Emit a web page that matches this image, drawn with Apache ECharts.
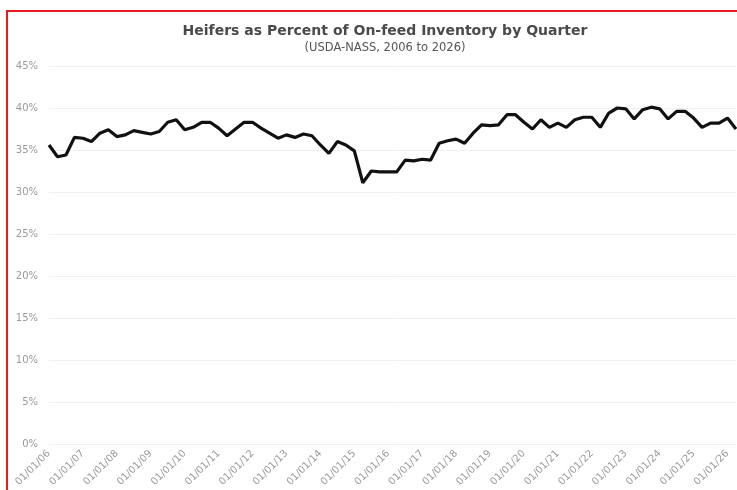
<!DOCTYPE html>
<html>
<head>
<meta charset="utf-8">
<script src="https://cdn.jsdelivr.net/npm/echarts@6/dist/echarts.min.js"></script>
<style>
html,body{margin:0;padding:0;background:#fff;}
#chart{width:737px;height:490px;}
</style>
</head>
<body>
<div id="chart"></div>
<script>
// Quarterly observations, Jan 2006 onward
var quarters = [];
var years = ['06','07','08','09','10','11','12','13','14','15','16','17','18','19','20','21','22','23','24','25','26'];
var months = ['01','04','07','10'];

var heiferPct = [
  35.6, 34.2, 34.4, 36.5, 36.4, 36.0, 37.0, 37.4, 36.6, 36.8,
  37.3, 37.1, 36.9, 37.2, 38.3, 38.6, 37.4, 37.7, 38.3, 38.3,
  37.6, 36.7, 37.5, 38.3, 38.3, 37.6, 37.0, 36.4, 36.8, 36.5,
  36.9, 36.7, 35.6, 34.6, 36.0, 35.6, 34.9, 31.1, 32.5, 32.4,
  32.4, 32.4, 33.8, 33.7, 33.9, 33.8, 35.8, 36.1, 36.3, 35.8,
  37.0, 38.0, 37.9, 38.0, 39.2, 39.2, 38.3, 37.5, 38.6, 37.7,
  38.2, 37.7, 38.6, 38.9, 38.9, 37.7, 39.4, 40.0, 39.9, 38.7,
  39.8, 40.1, 39.9, 38.7, 39.6, 39.6, 38.8, 37.7, 38.2, 38.2,
  38.8, 37.5
];

for (var i = 0; i < heiferPct.length; i++) {
  var y = years[Math.floor(i / 4)] || '26';
  quarters.push(months[i % 4] + '/01/' + y);
}

var titleText = 'Heifers as Percent of On-feed Inventory by Quarter';
var subtitleText = '(USDA-NASS, 2006 to 2026)';

var chart = echarts.init(document.getElementById('chart'));
chart.setOption({
  animation: false,
  backgroundColor: '#ffffff',
  title: {
    text: titleText,
    subtext: subtitleText,
    left: 380,
    top: 19,
    textAlign: 'center',
    itemGap: 4,
    textStyle: {fontFamily: 'DejaVu Sans', fontSize: 14, fontWeight: 'bold', color: '#4a4a4a'},
    subtextStyle: {fontFamily: 'DejaVu Sans', fontSize: 11.5, color: '#555'}
  },
  graphic: [
    {type: 'rect', left: 6, top: 10, shape: {width: 2, height: 480}, style: {fill: '#e8191f'}, z: 10},
    {type: 'rect', left: 6, top: 10, shape: {width: 731, height: 2}, style: {fill: '#e8191f'}, z: 10}
  ],
  grid: {left: 49, right: 1, top: 66, bottom: 46, containLabel: false},
  xAxis: {
    type: 'category',
    data: quarters,
    boundaryGap: false,
    axisLine: {show: false},
    axisTick: {show: false},
    axisLabel: {
      rotate: 45,
      interval: 3,
      margin: 8,
      fontFamily: 'DejaVu Sans',
      fontSize: 10,
      color: '#9a9a9a'
    },
    splitLine: {show: false}
  },
  yAxis: {
    type: 'value',
    min: 0,
    max: 45,
    interval: 5,
    axisLine: {show: false},
    axisTick: {show: false},
    axisLabel: {
      formatter: '{value}%',
      margin: 11,
      fontFamily: 'DejaVu Sans',
      fontSize: 10,
      color: '#9a9a9a'
    },
    splitLine: {lineStyle: {color: '#f0f0f0', width: 1}}
  },
  series: [{
    type: 'line',
    data: heiferPct,
    showSymbol: false,
    lineStyle: {color: '#111111', width: 3.2},
    itemStyle: {color: '#111111'}
  }]
});
</script>
</body>
</html>
